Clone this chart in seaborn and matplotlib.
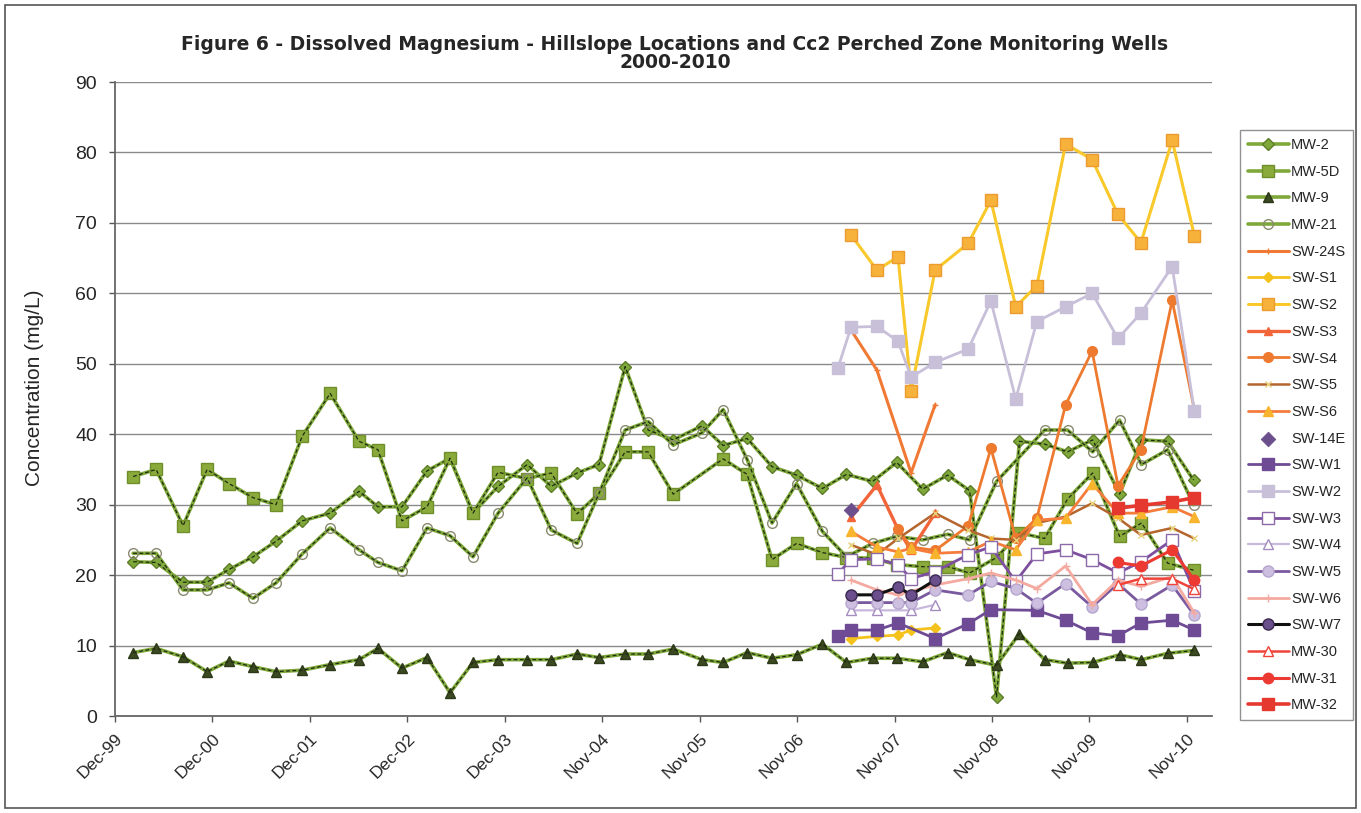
import numpy as np
import pandas as pd
import seaborn as sns
import matplotlib.pyplot as plt
from matplotlib.patches import Rectangle

nan = np.nan

# quarterly sampling dates of the older MW wells
mw_dates = ['2000-02-08', '2000-05-04', '2000-08-13', '2000-11-11', '2001-02-01', '2001-05-02',
            '2001-07-27', '2001-11-02', '2002-02-15', '2002-06-03', '2002-08-13', '2002-11-11',
            '2003-02-13', '2003-05-10', '2003-08-04', '2003-11-06', '2004-02-23', '2004-05-23',
            '2004-08-28', '2004-11-18', '2005-02-24', '2005-05-21', '2005-08-23', '2005-12-09',
            '2006-02-26', '2006-05-27', '2006-08-28', '2006-11-28', '2007-03-05', '2007-06-03',
            '2007-09-09', '2007-12-08', '2008-03-14', '2008-06-16', '2008-09-06', '2008-12-16',
            '2009-03-12', '2009-06-14', '2009-09-08', '2009-12-11', '2010-03-22', '2010-06-12',
            '2010-09-18', '2010-12-24']

mw_2 = [21.9, 21.8, 19.0, 19.0, 20.8, 22.6, 24.8, 27.7, 28.8, 31.9,
        29.7, 29.7, 34.8, 36.6, 28.8, 32.6, 35.7, 32.6, 34.5, 35.7,
        49.6, 40.6, 39.2, 41.2, 38.4, 39.4, 35.4, 34.2, 32.3, 34.3,
        33.3, 36.0, 32.2, 34.2, 32.0, 2.7, 39.0, 38.6, 37.5, 39.2,
        31.5, 39.2, 39.0, 33.5]
mw_5d = [34.0, 35.0, 27.0, 35.0, 33.0, 31.0, 30.0, 39.7, 45.8, 39.0,
         37.8, 27.7, 29.7, 36.6, 28.8, 34.6, 33.7, 34.5, 28.7, 31.6,
         37.5, 37.5, 31.5, nan, 36.5, 34.3, 22.2, 24.5, 23.2, 22.5,
         22.4, 21.5, 21.2, 21.2, 20.3, 22.5, 26.0, 25.2, 30.8, 34.5,
         25.5, 27.4, 21.7, 20.7]
mw_9 = [9.0, 9.6, 8.4, 6.3, 7.8, 7.0, 6.3, 6.5, 7.3, 8.0,
        9.6, 6.8, 8.3, 3.3, 7.6, 8.0, 8.0, 8.0, 8.8, 8.3,
        8.8, 8.8, 9.5, 8.0, 7.6, 9.0, 8.2, 8.7, 10.2, 7.6,
        8.2, 8.2, 7.7, 9.0, 8.0, 7.2, 11.7, 8.0, 7.5, 7.6,
        8.7, 8.0, 8.9, 9.3]
mw_21 = [23.1, 23.1, 17.9, 17.9, 18.9, 16.7, 18.9, 23.0, 26.7, 23.6,
         21.8, 20.6, 26.7, 25.6, 22.6, 28.8, 33.8, 26.4, 24.5, 31.6,
         40.6, 41.8, 38.5, 40.2, 43.5, 36.4, 27.4, 33.0, 26.2, 22.6,
         24.5, 25.5, 25.0, 25.8, 25.0, 33.3, nan, 40.6, 40.6, 37.5,
         42.0, 35.7, 37.8, 30.0]

# sampling dates of the hillslope wells (from 2007)
sw_dates = ['2007-05-02', '2007-06-20', '2007-09-25', '2007-12-13', '2008-01-31', '2008-04-30',
            '2008-09-01', '2008-11-25', '2009-02-26', '2009-05-16', '2009-09-01', '2009-12-09',
            '2010-03-16', '2010-06-10', '2010-10-05', '2010-12-27']

sw_24s = [nan, 54.8, 49.1, nan, 34.5, 44.2, nan, nan, nan, nan, nan, nan, nan, nan, nan, nan]
sw_s1 = [nan, 11.0, 11.3, 11.5, 12.2, 12.5, nan, nan, nan, nan, nan, nan, nan, nan, nan, nan]
sw_s2 = [nan, 68.3, 63.3, 65.2, 46.2, 63.3, 67.1, 73.2, 58.1, 61.1, 81.2, 79.0, 71.2, 67.2, 81.7, 68.2]
sw_s3 = [nan, 28.2, 32.8, 26.5, 23.5, 28.8, nan, nan, nan, nan, nan, nan, nan, nan, nan, nan]
sw_s4 = [nan, nan, nan, 26.5, 24.0, 23.5, 27.0, 38.0, 25.2, 28.1, 44.2, 51.8, 32.7, 37.8, 59.0, 43.5]
sw_s5 = [nan, 24.3, 22.9, 25.2, nan, 28.8, 26.4, 25.2, 25.0, 27.4, 28.3, 30.2, 28.1, 25.7, 26.7, 25.2]
sw_s6 = [nan, 26.2, 24.0, 23.3, 23.8, 23.1, 23.3, 24.8, 23.6, 27.8, 28.1, 33.0, 28.8, 28.8, 29.7, 28.3]
sw_14e = [nan, 29.3, nan, nan, nan, nan, nan, nan, nan, nan, nan, nan, nan, nan, nan, nan]
sw_w1 = [11.3, 12.2, 12.2, 13.2, nan, 11.0, 13.1, 15.1, nan, 15.0, 13.6, 11.8, 11.4, 13.2, 13.6, 12.2]
sw_w2 = [49.4, 55.2, 55.3, 53.2, 48.1, 50.2, 52.1, 58.9, 45.0, 56.0, 58.1, 60.0, 53.6, 57.2, 63.8, 43.3]
sw_w3 = [20.2, 22.2, 22.3, 21.5, 19.5, 20.5, 22.9, 24.0, 19.1, 23.0, 23.6, 22.2, 20.3, 21.9, 25.0, 17.7]
sw_w4 = [nan, 15.0, 15.0, nan, 15.0, 15.8, nan, nan, nan, nan, nan, nan, nan, nan, nan, nan]
sw_w5 = [nan, 16.1, 16.1, 16.1, 16.1, 17.9, 17.2, 19.1, 18.1, 16.0, 18.8, 15.5, 18.8, 15.9, 18.6, 14.3]
sw_w6 = [nan, 19.3, 17.9, 17.2, nan, 18.6, 19.5, 20.3, 19.3, 18.1, 21.3, 15.8, 19.3, 18.4, 19.8, 14.6]
sw_w7 = [nan, 17.2, 17.2, 18.3, 17.2, 19.3, nan, nan, nan, nan, nan, nan, nan, nan, nan, nan]
mw_30 = [nan, nan, nan, nan, nan, nan, nan, nan, nan, nan, nan, nan, 18.6, 19.5, 19.5, 18.0]
mw_31 = [nan, nan, nan, nan, nan, nan, nan, nan, nan, nan, nan, nan, 21.8, 21.3, 23.6, 19.3]
mw_32 = [nan, nan, nan, nan, nan, nan, nan, nan, nan, nan, nan, nan, 29.5, 29.9, 30.4, 31.0]

tick_dates = ['1999-12-02', '2000-12-01', '2001-12-01', '2002-12-01', '2003-12-01', '2004-11-30',
              '2005-11-30', '2006-11-30', '2007-11-30', '2008-11-29', '2009-11-29', '2010-11-29']

sns.set_style('white')
plt.rcParams['font.family'] = ['Liberation Sans', 'DejaVu Sans']

fig = plt.figure(figsize=(13.61, 8.13), dpi=100)
ax = fig.add_axes([0.0845, 0.1193, 0.806, 0.7798])

green = '#7FA83A'


def draw(dates, vals, label, color, marker, ms, mfc=None, mec=None, lw=1.8, overlay=False):
    df = pd.DataFrame({'date': pd.to_datetime(dates), 'val': vals}).dropna()
    sns.lineplot(data=df, x='date', y='val', ax=ax, label=label, color=color,
                 marker=marker, markersize=ms, linewidth=lw,
                 markerfacecolor=mfc if mfc else color,
                 markeredgecolor=mec if mec else color, markeredgewidth=1.0)
    if overlay:
        ax.plot(df['date'], df['val'], color='#1e2a10', lw=0.9, ls=(0, (3, 2)), label='_nolegend_')


draw(mw_dates, mw_2, 'MW-2', green, 'D', 6, mec='#5d7d27', lw=2.6, overlay=True)
draw(mw_dates, mw_5d, 'MW-5D', green, 's', 9, mfc='#8aaa3c', mec='#6f8f2a', lw=2.6, overlay=True)
draw(mw_dates, mw_9, 'MW-9', green, '^', 6.5, mfc='#3c4a22', mec='#2c3818', lw=2.6, overlay=True)
draw(mw_dates, mw_21, 'MW-21', green, 'o', 7, mfc='none', mec='#8a8a70', lw=2.6, overlay=True)
draw(sw_dates, sw_24s, 'SW-24S', '#f07a35', '+', 4, lw=2.2)
draw(sw_dates, sw_s1, 'SW-S1', '#f5c21c', 'D', 5, lw=2.0)
draw(sw_dates, sw_s2, 'SW-S2', '#f9c82a', 's', 9, mfc='#f7b23b', mec='#ec9b2e', lw=2.2)
draw(sw_dates, sw_s3, 'SW-S3', '#f2653a', '^', 6, lw=2.4)
draw(sw_dates, sw_s4, 'SW-S4', '#ee7a30', 'o', 7, lw=2.0)
draw(sw_dates, sw_s5, 'SW-S5', '#b5652d', 'x', 5, mec='#e8d27a', lw=1.8)
draw(sw_dates, sw_s6, 'SW-S6', '#f47c3c', '^', 7, mfc='#f8b42c', mec='#f8b42c', lw=2.0)
d14 = pd.DataFrame({'date': pd.to_datetime(sw_dates), 'val': sw_14e}).dropna()
sns.scatterplot(data=d14, x='date', y='val', ax=ax, label='SW-14E', marker='D', s=55,
                color='#6b4e8c', edgecolor='#6b4e8c', zorder=5)
draw(sw_dates, sw_w1, 'SW-W1', '#6e4b94', 's', 8, lw=2.0)
draw(sw_dates, sw_w2, 'SW-W2', '#c8bfd9', 's', 8, lw=2.0)
draw(sw_dates, sw_w3, 'SW-W3', '#7d4f9e', 's', 8, mfc='white', mec='#8a6aa8', lw=2.0)
draw(sw_dates, sw_w4, 'SW-W4', '#c7b8dc', '^', 7, mfc='white', mec='#a48cc0', lw=1.6)
draw(sw_dates, sw_w5, 'SW-W5', '#7a5a9e', 'o', 8, mfc='#cdbfe0', mec='#b6a6cf', lw=2.0)
draw(sw_dates, sw_w6, 'SW-W6', '#f4aaa0', '+', 6, lw=2.0)
draw(sw_dates, sw_w7, 'SW-W7', '#111111', 'o', 8, mfc='#6b4e8c', mec='#3a2a50', lw=2.2)
draw(sw_dates, mw_30, 'MW-30', '#f0443a', '^', 7, mfc='white', mec='#f0443a', lw=1.8)
draw(sw_dates, mw_31, 'MW-31', '#ec3a32', 'o', 7.5, lw=2.2)
draw(sw_dates, mw_32, 'MW-32', '#e5392f', 's', 8, lw=2.6)

ax.set_ylim(0, 90)
ax.set_yticks(range(0, 91, 10))
ax.set_xlim(pd.Timestamp('1999-12-02'), pd.Timestamp('2011-03-03'))
ticks = pd.to_datetime(tick_dates)
ax.set_xticks(ticks)
ax.set_xticklabels([t.strftime('%b-%y') for t in ticks], rotation=45, ha='right',
                   rotation_mode='anchor', fontsize=12.5)
ax.tick_params(axis='y', labelsize=14, length=4, width=1, color='#555', direction='out',
               left=True, pad=9)
ax.tick_params(axis='x', length=4, width=1, color='#555', direction='out', bottom=True, pad=7)
ax.set_xlabel('')
ax.set_ylabel('')
ax.yaxis.grid(True, color='#8a8a8a', lw=1)
ax.xaxis.grid(False)
for side in ['top', 'right']:
    ax.spines[side].set_visible(False)
for side in ['left', 'bottom']:
    ax.spines[side].set_color('#666')
    ax.spines[side].set_linewidth(1.3)

fig.text(0.025, 0.523, 'Concentration (mg/L)', rotation=90, ha='center', va='center', fontsize=15)
fig.text(0.496, 1 - 45 / 813, 'Figure 6 - Dissolved Magnesium - Hillslope Locations and Cc2 Perched Zone Monitoring Wells',
         ha='center', va='center', fontsize=13.5, fontweight='bold', family='DejaVu Sans')
fig.text(0.496, 1 - 62 / 813, '2000-2010', ha='center', va='center', fontsize=13.5,
         fontweight='bold', family='DejaVu Sans')

leg = ax.legend(loc='upper left', bbox_to_anchor=(1240 / 1361, 1 - 130 / 813), bbox_transform=fig.transFigure,
                fontsize=10.5, handlelength=2.8, labelspacing=0.87, frameon=True, fancybox=False,
                edgecolor='#777', borderpad=0.55, borderaxespad=0, handletextpad=0.15)
leg.get_frame().set_linewidth(1.0)

fig.add_artist(Rectangle((0.004, 0.006), 0.992, 0.988, transform=fig.transFigure,
                         fill=False, ec='#555', lw=1.2))

fig.savefig('out.png', dpi=100, facecolor='white')
